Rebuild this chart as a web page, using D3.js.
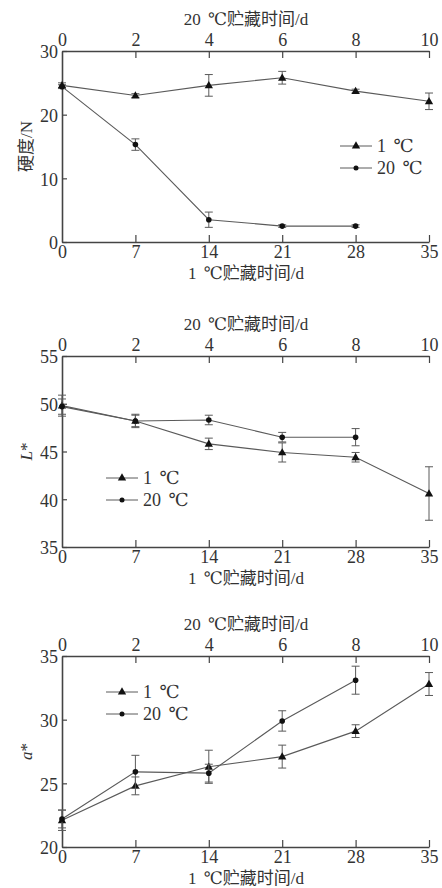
<!DOCTYPE html>
<html>
<head>
<meta charset="utf-8">
<script src="https://cdn.jsdelivr.net/npm/d3@7"></script>
<style>
  body { margin: 0; background: #fff; }
  svg text { font-family: "Liberation Serif", "DejaVu Serif", "Noto Sans CJK SC", serif; fill: #333; }
</style>
</head>
<body>
<svg id="chart" width="442" height="888"></svg>
<script>
// storage days
const days1 = [0, 7, 14, 21, 28, 35];
const days20 = [0, 2, 4, 6, 8];
const ticks1 = [0, 7, 14, 21, 28, 35];
const ticks20 = [0, 2, 4, 6, 8, 10];

// firmness (N)
const firm1 = [24.6, 23.0, 24.6, 25.8, 23.7, 22.1];
const firm1Err = [0.4, 0.3, 1.7, 1.0, 0.3, 1.3];
const firm20 = [24.4, 15.3, 3.5, 2.5, 2.5];
const firm20Err = [0.3, 0.9, 1.2, 0.2, 0.2];

// L*
const light1 = [49.8, 48.2, 45.8, 44.9, 44.4, 40.6];
const light1Err = [1.1, 0.7, 0.6, 1.0, 0.5, 2.8];
const light20 = [49.7, 48.2, 48.3, 46.5, 46.5];
const light20Err = [0.8, 0.6, 0.5, 0.5, 0.9];

// a*
const red1 = [22.1, 24.8, 26.3, 27.1, 29.1, 32.8];
const red1Err = [0.8, 0.7, 1.3, 0.9, 0.5, 0.9];
const red20 = [22.2, 25.9, 25.8, 29.9, 33.1];
const red20Err = [0.7, 1.3, 0.7, 0.8, 1.1];

const legendLabels = ['1 ℃', '20 ℃'];
const topTitle = '20 ℃贮藏时间/d';
const bottomTitle = '1 ℃贮藏时间/d';

const panels = [
  { top: 51, yDomain: [0, 30], yTicks: [0, 10, 20, 30], yLabel: '硬度/N', italic: false,
    s1: firm1, e1: firm1Err, s20: firm20, e20: firm20Err, legend: [340, 146] },
  { top: 356, yDomain: [35, 55], yTicks: [35, 40, 45, 50, 55], yLabel: 'L*', italic: true,
    s1: light1, e1: light1Err, s20: light20, e20: light20Err, legend: [106, 478] },
  { top: 656, yDomain: [20, 35], yTicks: [20, 25, 30, 35], yLabel: 'a*', italic: true,
    s1: red1, e1: red1Err, s20: red20, e20: red20Err, legend: [106, 692] }
];

const svg = d3.select('#chart');
const left = 62, right = 429, plotH = 191;
const axisColor = '#444';
const lineColor = '#5a5a5a';
const serif = '"Liberation Serif", "DejaVu Serif", serif';

const x1 = d3.scaleLinear().domain([0, 35]).range([left, right]);
const x20 = d3.scaleLinear().domain([0, 10]).range([left, right]);

const triangle = d3.symbol().type(d3.symbolTriangle).size(30);

function drawSeries(g, xs, x, y, vals, errs, isTri) {
  const pts = vals.map((v, i) => ({ x: x(xs[i]), y: y(v), lo: y(v - errs[i]), hi: y(v + errs[i]) }));
  g.append('path')
    .datum(pts)
    .attr('fill', 'none')
    .attr('stroke', lineColor)
    .attr('stroke-width', 1.1)
    .attr('d', d3.line().x(d => d.x).y(d => d.y));
  // error bars
  const eb = g.append('g').attr('stroke', lineColor).attr('stroke-width', 1);
  pts.forEach(p => {
    eb.append('line').attr('x1', p.x).attr('x2', p.x).attr('y1', p.lo).attr('y2', p.hi);
    eb.append('line').attr('x1', p.x - 4).attr('x2', p.x + 4).attr('y1', p.lo).attr('y2', p.lo);
    eb.append('line').attr('x1', p.x - 4).attr('x2', p.x + 4).attr('y1', p.hi).attr('y2', p.hi);
  });
  pts.forEach(p => {
    if (isTri) {
      g.append('path').attr('d', triangle).attr('fill', '#111')
        .attr('transform', `translate(${p.x},${p.y + 0.5})`);
    } else {
      g.append('circle').attr('cx', p.x).attr('cy', p.y).attr('r', 2.8).attr('fill', '#111');
    }
  });
}

panels.forEach(p => {
  const g = svg.append('g');
  const bottom = p.top + plotH;
  const y = d3.scaleLinear().domain(p.yDomain).range([bottom, p.top]);

  // bottom axis (1 ℃)
  const bx = g.append('g')
    .attr('transform', `translate(0,${bottom})`)
    .call(d3.axisBottom(x1).tickValues(ticks1).tickSizeInner(-7).tickSizeOuter(0).tickPadding(3));
  // top axis (20 ℃)
  const tx = g.append('g')
    .attr('transform', `translate(0,${p.top})`)
    .call(d3.axisTop(x20).tickValues(ticks20).tickSizeInner(-7).tickSizeOuter(0).tickPadding(5));
  // left axis
  const lx = g.append('g')
    .attr('transform', `translate(${left},0)`)
    .call(d3.axisLeft(y).tickValues(p.yTicks).tickSizeInner(-5).tickSizeOuter(0).tickPadding(4));

  [bx, tx, lx].forEach(a => {
    a.attr('font-family', serif);
    a.select('.domain').attr('stroke', axisColor).attr('stroke-width', 1.6);
    a.selectAll('.tick line').attr('stroke', axisColor).attr('stroke-width', 1.2);
    a.selectAll('.tick text').attr('font-size', 18).attr('fill', '#333')
      .style('font-family', serif);
  });
  lx.selectAll('.tick text').attr('dy', '0.38em');
  bx.selectAll('.tick').filter(d => d === 0).select('line').remove();
  tx.selectAll('.tick').filter(d => d === 0).select('line').remove();

  // axis titles
  g.append('text')
    .attr('x', 246).attr('y', p.top - 26)
    .attr('text-anchor', 'middle').attr('font-size', 17)
    .attr('word-spacing', 3)
    .text(topTitle);
  g.append('text')
    .attr('x', 246).attr('y', bottom + 37)
    .attr('text-anchor', 'middle').attr('font-size', 17)
    .attr('word-spacing', 3)
    .text(bottomTitle);

  const yl = g.append('text')
    .attr('transform', `translate(32,${p.top + plotH / 2}) rotate(-90)`)
    .attr('text-anchor', 'middle').attr('font-size', 17);
  if (p.italic) {
    yl.append('tspan').attr('font-style', 'italic').text(p.yLabel[0]);
    yl.append('tspan').text(p.yLabel.slice(1));
  } else {
    yl.text(p.yLabel);
  }

  drawSeries(g, days1, x1, y, p.s1, p.e1, true);
  drawSeries(g, days20, x20, y, p.s20, p.e20, false);

  // legend
  const [lgX, lgY] = p.legend;
  legendLabels.forEach((lab, i) => {
    const yy = lgY + i * 22;
    g.append('line').attr('x1', lgX).attr('x2', lgX + 32).attr('y1', yy).attr('y2', yy)
      .attr('stroke', lineColor).attr('stroke-width', 1);
    if (i === 0) {
      g.append('path').attr('d', triangle).attr('fill', '#111')
        .attr('transform', `translate(${lgX + 16},${yy})`);
    } else {
      g.append('circle').attr('cx', lgX + 16).attr('cy', yy).attr('r', 2.5).attr('fill', '#111');
    }
    g.append('text').attr('x', lgX + 37).attr('y', yy + 6)
      .attr('font-size', 18).attr('word-spacing', 3).text(lab);
  });
});
</script>
</body>
</html>
